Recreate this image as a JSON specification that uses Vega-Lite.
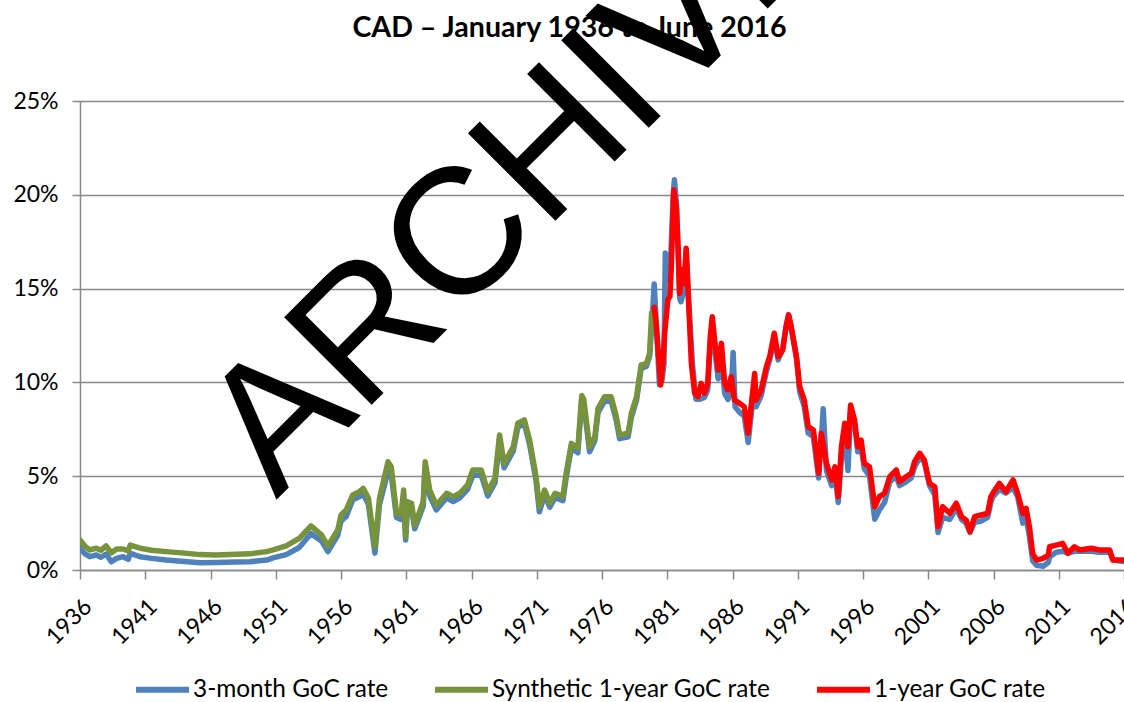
{
  "$schema": "https://vega.github.io/schema/vega-lite/v6.json",
  "width": 1044,
  "height": 469,
  "autosize": {"type": "none"},
  "padding": {"left": 80, "top": 101, "right": 0, "bottom": 132},
  "background": "white",
  "config": {
    "view": {"stroke": null},
    "axis": {"labelFont": "Lato", "labelFontSize": 23, "labelColor": "black", "domainColor": "#898989", "domainWidth": 1.5, "tickColor": "#898989", "tickWidth": 1.5, "gridColor": "#898989", "gridWidth": 1.5, "title": null}
  },
  "resolve": {"axis": {"x": "independent"}},
  "datasets": {
    "threeMonth": [
      {"year": 1936.0, "rate": 1.16}, {"year": 1936.4, "rate": 0.85}, {"year": 1936.75, "rate": 0.71}, {"year": 1937.25, "rate": 0.8}, {"year": 1937.6, "rate": 0.68}, {"year": 1938.0, "rate": 0.85}, {"year": 1938.4, "rate": 0.44}, {"year": 1938.8, "rate": 0.62}, {"year": 1939.3, "rate": 0.71}, {"year": 1939.7, "rate": 0.57}, {"year": 1939.85, "rate": 0.89}, {"year": 1940.6, "rate": 0.71}, {"year": 1941.5, "rate": 0.62}, {"year": 1942.6, "rate": 0.53}, {"year": 1944.0, "rate": 0.45}, {"year": 1945.2, "rate": 0.39}, {"year": 1946.4, "rate": 0.4}, {"year": 1948.0, "rate": 0.42}, {"year": 1949.0, "rate": 0.44}, {"year": 1950.3, "rate": 0.53}, {"year": 1950.8, "rate": 0.65}, {"year": 1951.8, "rate": 0.82}, {"year": 1952.8, "rate": 1.2}, {"year": 1953.7, "rate": 1.95}, {"year": 1954.5, "rate": 1.55}, {"year": 1955.0, "rate": 0.98}, {"year": 1955.75, "rate": 1.85}, {"year": 1956.0, "rate": 2.6}, {"year": 1956.4, "rate": 2.85}, {"year": 1956.9, "rate": 3.75}, {"year": 1957.4, "rate": 3.9}, {"year": 1957.7, "rate": 4.05}, {"year": 1958.1, "rate": 3.5}, {"year": 1958.6, "rate": 0.9}, {"year": 1958.95, "rate": 3.5}, {"year": 1959.6, "rate": 5.25}, {"year": 1959.85, "rate": 5.1}, {"year": 1960.25, "rate": 2.8}, {"year": 1960.6, "rate": 2.7}, {"year": 1960.8, "rate": 4.0}, {"year": 1960.95, "rate": 1.6}, {"year": 1961.1, "rate": 3.35}, {"year": 1961.4, "rate": 3.3}, {"year": 1961.65, "rate": 2.2}, {"year": 1962.3, "rate": 3.4}, {"year": 1962.45, "rate": 5.4}, {"year": 1962.8, "rate": 3.95}, {"year": 1963.3, "rate": 3.2}, {"year": 1964.1, "rate": 3.85}, {"year": 1964.6, "rate": 3.65}, {"year": 1965.1, "rate": 3.85}, {"year": 1965.7, "rate": 4.3}, {"year": 1966.1, "rate": 5.05}, {"year": 1966.75, "rate": 5.05}, {"year": 1967.25, "rate": 3.95}, {"year": 1967.8, "rate": 4.65}, {"year": 1968.15, "rate": 6.95}, {"year": 1968.5, "rate": 5.45}, {"year": 1969.2, "rate": 6.35}, {"year": 1969.55, "rate": 7.6}, {"year": 1970.05, "rate": 7.8}, {"year": 1970.45, "rate": 6.7}, {"year": 1970.95, "rate": 4.75}, {"year": 1971.2, "rate": 3.1}, {"year": 1971.6, "rate": 4.0}, {"year": 1972.0, "rate": 3.35}, {"year": 1972.4, "rate": 3.85}, {"year": 1973.0, "rate": 3.7}, {"year": 1973.25, "rate": 4.9}, {"year": 1973.65, "rate": 6.5}, {"year": 1974.15, "rate": 6.25}, {"year": 1974.45, "rate": 9.1}, {"year": 1974.6, "rate": 8.9}, {"year": 1975.05, "rate": 6.3}, {"year": 1975.45, "rate": 6.9}, {"year": 1975.7, "rate": 8.4}, {"year": 1976.2, "rate": 9.0}, {"year": 1976.7, "rate": 9.0}, {"year": 1977.1, "rate": 7.95}, {"year": 1977.35, "rate": 7.0}, {"year": 1978.0, "rate": 7.1}, {"year": 1978.25, "rate": 8.15}, {"year": 1978.65, "rate": 9.05}, {"year": 1979.0, "rate": 10.75}, {"year": 1979.4, "rate": 10.85}, {"year": 1979.65, "rate": 11.4}, {"year": 1979.85, "rate": 13.4},
      {"year": 1980.0, "rate": 15.25}, {"year": 1980.2, "rate": 12.6}, {"year": 1980.4, "rate": 9.9}, {"year": 1980.6, "rate": 10.1}, {"year": 1980.75, "rate": 11.0}, {"year": 1980.85, "rate": 16.9}, {"year": 1981.2, "rate": 15.4}, {"year": 1981.45, "rate": 19.9}, {"year": 1981.55, "rate": 20.8}, {"year": 1981.7, "rate": 19.5}, {"year": 1981.95, "rate": 14.5}, {"year": 1982.05, "rate": 14.3}, {"year": 1982.3, "rate": 15.0}, {"year": 1982.45, "rate": 17.0}, {"year": 1982.6, "rate": 14.7}, {"year": 1982.95, "rate": 10.8}, {"year": 1983.2, "rate": 9.1}, {"year": 1983.5, "rate": 9.1}, {"year": 1983.85, "rate": 9.2}, {"year": 1984.1, "rate": 9.6}, {"year": 1984.3, "rate": 12.1}, {"year": 1984.45, "rate": 13.2}, {"year": 1984.6, "rate": 12.0}, {"year": 1984.9, "rate": 10.2}, {"year": 1985.15, "rate": 11.6}, {"year": 1985.4, "rate": 9.4}, {"year": 1985.65, "rate": 9.1}, {"year": 1985.9, "rate": 9.5}, {"year": 1986.05, "rate": 11.6}, {"year": 1986.2, "rate": 8.7}, {"year": 1986.55, "rate": 8.4}, {"year": 1986.9, "rate": 8.2}, {"year": 1987.2, "rate": 6.8}, {"year": 1987.7, "rate": 10.0}, {"year": 1987.8, "rate": 8.7}, {"year": 1988.2, "rate": 9.3}, {"year": 1988.6, "rate": 10.6}, {"year": 1988.85, "rate": 11.2}, {"year": 1989.2, "rate": 12.3}, {"year": 1989.5, "rate": 11.2}, {"year": 1989.85, "rate": 11.8}, {"year": 1990.1, "rate": 12.9}, {"year": 1990.3, "rate": 13.6}, {"year": 1990.5, "rate": 12.9}, {"year": 1990.9, "rate": 11.3}, {"year": 1991.15, "rate": 9.5}, {"year": 1991.5, "rate": 8.7}, {"year": 1991.8, "rate": 7.3}, {"year": 1992.2, "rate": 7.1}, {"year": 1992.6, "rate": 4.9}, {"year": 1992.8, "rate": 6.8}, {"year": 1992.95, "rate": 8.6}, {"year": 1993.2, "rate": 5.3}, {"year": 1993.6, "rate": 4.5}, {"year": 1993.85, "rate": 5.2}, {"year": 1994.1, "rate": 3.6}, {"year": 1994.35, "rate": 6.0}, {"year": 1994.6, "rate": 7.4}, {"year": 1994.85, "rate": 5.3}, {"year": 1995.05, "rate": 8.5}, {"year": 1995.35, "rate": 7.8}, {"year": 1995.6, "rate": 6.3}, {"year": 1995.85, "rate": 6.6}, {"year": 1996.1, "rate": 5.4}, {"year": 1996.5, "rate": 5.0}, {"year": 1996.9, "rate": 2.7}, {"year": 1997.25, "rate": 3.2}, {"year": 1997.65, "rate": 3.6}, {"year": 1998.05, "rate": 4.7}, {"year": 1998.55, "rate": 5.0}, {"year": 1998.8, "rate": 4.5}, {"year": 1999.3, "rate": 4.7}, {"year": 1999.7, "rate": 4.9}, {"year": 1999.95, "rate": 5.5}, {"year": 2000.35, "rate": 6.0}, {"year": 2000.7, "rate": 5.75}, {"year": 2001.1, "rate": 4.5}, {"year": 2001.5, "rate": 4.0}, {"year": 2001.75, "rate": 2.0}, {"year": 2002.1, "rate": 2.8}, {"year": 2002.65, "rate": 2.7}, {"year": 2003.15, "rate": 3.3}, {"year": 2003.55, "rate": 2.7}, {"year": 2003.9, "rate": 2.5}, {"year": 2004.2, "rate": 2.0}, {"year": 2004.55, "rate": 2.55}, {"year": 2005.05, "rate": 2.6}, {"year": 2005.55, "rate": 2.8}, {"year": 2005.8, "rate": 3.6}, {"year": 2005.95, "rate": 3.9}, {"year": 2006.45, "rate": 4.3}, {"year": 2006.95, "rate": 4.1}, {"year": 2007.5, "rate": 4.4}, {"year": 2007.85, "rate": 3.9}, {"year": 2008.25, "rate": 2.5}, {"year": 2008.5, "rate": 2.8}, {"year": 2008.75, "rate": 1.8}, {"year": 2009.0, "rate": 0.5}, {"year": 2009.3, "rate": 0.25}, {"year": 2009.8, "rate": 0.2}, {"year": 2010.2, "rate": 0.4}, {"year": 2010.3, "rate": 0.7}, {"year": 2010.8, "rate": 0.95}, {"year": 2011.3, "rate": 1.0}, {"year": 2011.7, "rate": 0.9}, {"year": 2012.2, "rate": 1.0}, {"year": 2012.6, "rate": 1.0}, {"year": 2013.5, "rate": 1.0}, {"year": 2014.1, "rate": 0.95}, {"year": 2014.9, "rate": 0.95}, {"year": 2015.15, "rate": 0.55}, {"year": 2015.9, "rate": 0.45}, {"year": 2016.4, "rate": 0.5}
    ],
    "synthetic": [
      {"year": 1936.0, "rate": 1.6}, {"year": 1936.4, "rate": 1.25}, {"year": 1936.75, "rate": 1.07}, {"year": 1937.25, "rate": 1.16}, {"year": 1937.6, "rate": 1.05}, {"year": 1938.0, "rate": 1.28}, {"year": 1938.4, "rate": 0.92}, {"year": 1938.8, "rate": 1.12}, {"year": 1939.3, "rate": 1.12}, {"year": 1939.7, "rate": 1.02}, {"year": 1939.85, "rate": 1.33}, {"year": 1940.6, "rate": 1.16}, {"year": 1941.5, "rate": 1.05}, {"year": 1942.6, "rate": 0.98}, {"year": 1944.0, "rate": 0.9}, {"year": 1945.2, "rate": 0.82}, {"year": 1946.4, "rate": 0.8}, {"year": 1948.0, "rate": 0.84}, {"year": 1949.0, "rate": 0.86}, {"year": 1950.3, "rate": 0.98}, {"year": 1950.8, "rate": 1.07}, {"year": 1951.8, "rate": 1.28}, {"year": 1952.8, "rate": 1.69}, {"year": 1953.7, "rate": 2.35}, {"year": 1954.5, "rate": 1.87}, {"year": 1955.0, "rate": 1.28}, {"year": 1955.75, "rate": 2.13}, {"year": 1956.0, "rate": 2.93}, {"year": 1956.4, "rate": 3.2}, {"year": 1956.9, "rate": 4.0}, {"year": 1957.4, "rate": 4.17}, {"year": 1957.7, "rate": 4.35}, {"year": 1958.1, "rate": 3.82}, {"year": 1958.6, "rate": 1.24}, {"year": 1958.95, "rate": 3.82}, {"year": 1959.6, "rate": 5.77}, {"year": 1959.85, "rate": 5.5}, {"year": 1960.25, "rate": 3.02}, {"year": 1960.6, "rate": 2.93}, {"year": 1960.8, "rate": 4.26}, {"year": 1960.95, "rate": 1.78}, {"year": 1961.1, "rate": 3.64}, {"year": 1961.4, "rate": 3.56}, {"year": 1961.65, "rate": 2.4}, {"year": 1962.3, "rate": 3.64}, {"year": 1962.45, "rate": 5.77}, {"year": 1962.8, "rate": 4.26}, {"year": 1963.3, "rate": 3.46}, {"year": 1964.1, "rate": 4.09}, {"year": 1964.6, "rate": 3.91}, {"year": 1965.1, "rate": 4.09}, {"year": 1965.7, "rate": 4.53}, {"year": 1966.1, "rate": 5.33}, {"year": 1966.75, "rate": 5.33}, {"year": 1967.25, "rate": 4.17}, {"year": 1967.8, "rate": 4.89}, {"year": 1968.15, "rate": 7.2}, {"year": 1968.5, "rate": 5.68}, {"year": 1969.2, "rate": 6.57}, {"year": 1969.55, "rate": 7.82}, {"year": 1970.05, "rate": 8.0}, {"year": 1970.45, "rate": 6.93}, {"year": 1970.95, "rate": 4.97}, {"year": 1971.2, "rate": 3.37}, {"year": 1971.6, "rate": 4.26}, {"year": 1972.0, "rate": 3.56}, {"year": 1972.4, "rate": 4.09}, {"year": 1973.0, "rate": 3.91}, {"year": 1973.25, "rate": 5.15}, {"year": 1973.65, "rate": 6.75}, {"year": 1974.15, "rate": 6.48}, {"year": 1974.45, "rate": 9.3}, {"year": 1974.6, "rate": 9.1}, {"year": 1975.05, "rate": 6.57}, {"year": 1975.45, "rate": 7.1}, {"year": 1975.7, "rate": 8.62}, {"year": 1976.2, "rate": 9.24}, {"year": 1976.7, "rate": 9.24}, {"year": 1977.1, "rate": 8.17}, {"year": 1977.35, "rate": 7.2}, {"year": 1978.0, "rate": 7.29}, {"year": 1978.25, "rate": 8.35}, {"year": 1978.65, "rate": 9.24}, {"year": 1979.0, "rate": 10.93}, {"year": 1979.4, "rate": 11.0}, {"year": 1979.65, "rate": 11.55}, {"year": 1979.8, "rate": 13.7}
    ],
    "oneYear": [
      {"year": 1980.0, "rate": 14.0}, {"year": 1980.15, "rate": 13.15}, {"year": 1980.3, "rate": 11.7}, {"year": 1980.5, "rate": 9.86}, {"year": 1980.7, "rate": 11.37}, {"year": 1980.8, "rate": 12.62}, {"year": 1981.05, "rate": 14.4}, {"year": 1981.2, "rate": 14.57}, {"year": 1981.3, "rate": 16.0}, {"year": 1981.5, "rate": 20.26}, {"year": 1981.7, "rate": 19.37}, {"year": 1981.85, "rate": 16.88}, {"year": 1981.95, "rate": 14.75}, {"year": 1982.15, "rate": 16.0}, {"year": 1982.3, "rate": 15.28}, {"year": 1982.45, "rate": 17.15}, {"year": 1982.6, "rate": 14.93}, {"year": 1982.85, "rate": 11.0}, {"year": 1983.1, "rate": 9.42}, {"year": 1983.35, "rate": 9.24}, {"year": 1983.6, "rate": 9.95}, {"year": 1983.85, "rate": 9.42}, {"year": 1984.1, "rate": 9.95}, {"year": 1984.3, "rate": 12.44}, {"year": 1984.45, "rate": 13.5}, {"year": 1984.6, "rate": 12.44}, {"year": 1984.9, "rate": 10.66}, {"year": 1985.15, "rate": 12.08}, {"year": 1985.4, "rate": 9.95}, {"year": 1985.65, "rate": 9.6}, {"year": 1985.9, "rate": 10.3}, {"year": 1986.15, "rate": 9.06}, {"year": 1986.55, "rate": 8.88}, {"year": 1986.9, "rate": 8.7}, {"year": 1987.2, "rate": 7.29}, {"year": 1987.7, "rate": 10.48}, {"year": 1987.8, "rate": 9.06}, {"year": 1988.2, "rate": 9.6}, {"year": 1988.6, "rate": 10.84}, {"year": 1988.85, "rate": 11.37}, {"year": 1989.2, "rate": 12.62}, {"year": 1989.5, "rate": 11.37}, {"year": 1989.85, "rate": 11.73}, {"year": 1990.1, "rate": 12.97}, {"year": 1990.3, "rate": 13.6}, {"year": 1990.5, "rate": 12.97}, {"year": 1990.9, "rate": 11.37}, {"year": 1991.15, "rate": 9.77}, {"year": 1991.5, "rate": 9.06}, {"year": 1991.8, "rate": 7.64}, {"year": 1992.2, "rate": 7.46}, {"year": 1992.6, "rate": 5.15}, {"year": 1992.8, "rate": 7.29}, {"year": 1993.2, "rate": 5.68}, {"year": 1993.6, "rate": 4.8}, {"year": 1993.85, "rate": 5.5}, {"year": 1994.1, "rate": 3.91}, {"year": 1994.35, "rate": 6.57}, {"year": 1994.6, "rate": 7.82}, {"year": 1994.85, "rate": 6.57}, {"year": 1995.05, "rate": 8.8}, {"year": 1995.35, "rate": 8.0}, {"year": 1995.6, "rate": 6.57}, {"year": 1995.85, "rate": 6.93}, {"year": 1996.1, "rate": 5.68}, {"year": 1996.5, "rate": 5.5}, {"year": 1996.9, "rate": 3.37}, {"year": 1997.25, "rate": 3.91}, {"year": 1997.65, "rate": 4.09}, {"year": 1998.05, "rate": 4.97}, {"year": 1998.55, "rate": 5.33}, {"year": 1998.8, "rate": 4.71}, {"year": 1999.3, "rate": 4.97}, {"year": 1999.7, "rate": 5.15}, {"year": 1999.95, "rate": 5.77}, {"year": 2000.35, "rate": 6.22}, {"year": 2000.7, "rate": 5.86}, {"year": 2001.1, "rate": 4.62}, {"year": 2001.5, "rate": 4.44}, {"year": 2001.75, "rate": 2.31}, {"year": 2002.1, "rate": 3.37}, {"year": 2002.65, "rate": 3.02}, {"year": 2003.15, "rate": 3.56}, {"year": 2003.55, "rate": 2.84}, {"year": 2003.9, "rate": 2.66}, {"year": 2004.2, "rate": 2.04}, {"year": 2004.55, "rate": 2.84}, {"year": 2005.05, "rate": 2.93}, {"year": 2005.55, "rate": 3.02}, {"year": 2005.8, "rate": 3.91}, {"year": 2005.95, "rate": 4.09}, {"year": 2006.45, "rate": 4.62}, {"year": 2006.95, "rate": 4.17}, {"year": 2007.5, "rate": 4.8}, {"year": 2007.85, "rate": 4.09}, {"year": 2008.25, "rate": 3.02}, {"year": 2008.5, "rate": 3.29}, {"year": 2008.75, "rate": 2.31}, {"year": 2009.0, "rate": 0.89}, {"year": 2009.3, "rate": 0.53}, {"year": 2009.8, "rate": 0.62}, {"year": 2010.2, "rate": 0.8}, {"year": 2010.3, "rate": 1.24}, {"year": 2010.8, "rate": 1.33}, {"year": 2011.3, "rate": 1.42}, {"year": 2011.7, "rate": 0.89}, {"year": 2012.2, "rate": 1.24}, {"year": 2012.6, "rate": 1.07}, {"year": 2013.5, "rate": 1.16}, {"year": 2014.1, "rate": 1.07}, {"year": 2014.9, "rate": 1.07}, {"year": 2015.15, "rate": 0.53}, {"year": 2015.9, "rate": 0.53}, {"year": 2016.4, "rate": 0.55}
    ]
  },
  "layer": [
    {
      "data": {"name": "threeMonth"},
      "mark": {"type": "line", "strokeWidth": 5.5, "strokeCap": "round", "strokeJoin": "round", "clip": true},
      "encoding": {
        "x": {"field": "year", "type": "quantitative", "scale": {"domain": [1936, 2016], "nice": false, "zero": false},
              "axis": {"orient": "bottom", "values": [1936, 1941, 1946, 1951, 1956, 1961, 1966, 1971, 1976, 1981, 1986, 1991, 1996, 2001, 2006, 2011, 2016], "format": "d", "labelAngle": -45, "tickSize": 9, "labelPadding": 16, "labelFlush": false, "labelOverlap": false, "grid": false}},
        "y": {"field": "rate", "type": "quantitative", "scale": {"domain": [0, 25], "nice": false},
              "axis": {"values": [0, 5, 10, 15, 20, 25], "labelExpr": "datum.value + '%'", "tickSize": 8, "labelPadding": 14, "grid": true}},
        "color": {"datum": "3-month GoC rate", "type": "nominal",
                  "scale": {"domain": ["3-month GoC rate", "Synthetic 1-year GoC rate", "1-year GoC rate"], "range": ["#4F81BD", "#77933C", "#FF0000"]},
                  "legend": {"title": null, "orient": "none", "direction": "horizontal", "legendX": 53, "legendY": 559, "symbolType": "stroke", "symbolSize": 2809, "symbolStrokeWidth": 6, "labelFont": "Lato", "labelFontSize": 24.4, "labelColor": "black", "labelOffset": 1, "columnPadding": 34, "padding": 0, "labelLimit": 400}}
      }
    },
    {
      "data": {"name": "synthetic"},
      "mark": {"type": "line", "strokeWidth": 5.5, "strokeCap": "round", "strokeJoin": "round", "clip": true},
      "encoding": {
        "x": {"field": "year", "type": "quantitative", "axis": null},
        "y": {"field": "rate", "type": "quantitative"},
        "color": {"datum": "Synthetic 1-year GoC rate", "type": "nominal"}
      }
    },
    {
      "data": {"name": "oneYear"},
      "mark": {"type": "line", "strokeWidth": 5.5, "strokeCap": "round", "strokeJoin": "round", "clip": true},
      "encoding": {
        "x": {"field": "year", "type": "quantitative", "axis": null},
        "y": {"field": "rate", "type": "quantitative"},
        "color": {"datum": "1-year GoC rate", "type": "nominal"}
      }
    },
    {
      "data": {"values": [{"year": 1951.04, "rate": 3.73, "label": "ARCHIVE"}]},
      "mark": {"type": "text", "angle": -45, "align": "left", "baseline": "alphabetic", "font": "Liberation Sans", "fontSize": 180, "color": "black"},
      "encoding": {
        "x": {"field": "year", "type": "quantitative",
              "axis": {"orient": "top", "labels": false, "ticks": false, "domain": false, "grid": false,
                       "title": "CAD – January 1936 to June 2016", "titleFont": "Lato", "titleFontSize": 28.6, "titleFontWeight": "bold", "titleColor": "black",
                       "titleX": 489, "titleY": -65, "titleAlign": "center", "titleAnchor": "start", "titleBaseline": "alphabetic", "titleAngle": 0, "titlePadding": 0}},
        "y": {"field": "rate", "type": "quantitative"},
        "text": {"field": "label"}
      }
    }
  ]
}
